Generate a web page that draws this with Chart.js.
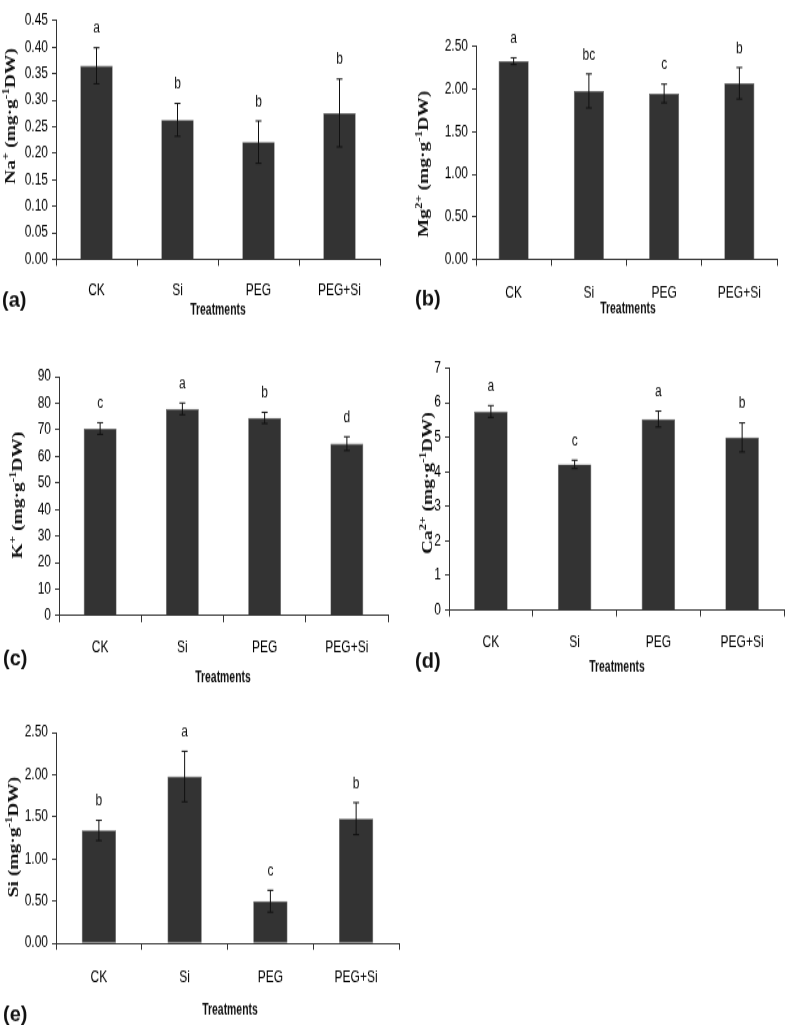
<!DOCTYPE html>
<html><head><meta charset="utf-8">
<script src="https://cdn.jsdelivr.net/npm/chart.js@4.4.1/dist/chart.umd.min.js"></script>
<style>
html,body{margin:0;padding:0;background:#fff;}
#fig{position:relative;width:787px;height:1025px;overflow:hidden;background:#fff;}
.panel{position:absolute;transform-origin:0 0;}
.panel canvas{display:block;}
</style></head><body><div id="fig"></div>
<script>
// ---------- data ----------
const categories = ['CK', 'Si', 'PEG', 'PEG+Si'];
const xAxisTitle = 'Treatments';

const naValues  = [0.365, 0.263, 0.221, 0.276];
const naErrors  = [0.034, 0.031, 0.040, 0.064];
const naLetters = ['a', 'b', 'b', 'b'];

const mgValues  = [2.33, 1.98, 1.95, 2.07];
const mgErrors  = [0.04, 0.20, 0.11, 0.185];
const mgLetters = ['a', 'bc', 'c', 'b'];

const kValues  = [70.5, 77.9, 74.5, 64.8];
const kErrors  = [2.2, 2.2, 2.1, 2.6];
const kLetters = ['c', 'a', 'b', 'd'];

const caValues  = [5.75, 4.22, 5.53, 5.00];
const caErrors  = [0.17, 0.12, 0.23, 0.42];
const caLetters = ['a', 'c', 'a', 'b'];

const siValues  = [1.34, 1.98, 0.50, 1.48];
const siErrors  = [0.12, 0.30, 0.13, 0.19];
const siLetters = ['b', 'a', 'c', 'b'];

// y titles as [text, isSuperscript]
const naTitle = [['Na',0],['+',1],[' (mg·g',0],['-1',1],['DW)',0]];
const mgTitle = [['Mg',0],['2+',1],[' (mg·g',0],['-1',1],['DW)',0]];
const kTitle  = [['K',0],['+',1],[' (mg·g',0],['-1',1],['DW)',0]];
const caTitle = [['Ca',0],['2+',1],[' (mg·g',0],['-1',1],['DW)',0]];
const siTitle = [['Si (mg·g',0],['-1',1],['DW)',0]];

const panelLabels = ['(a)', '(b)', '(c)', '(d)', '(e)'];

// ---------- layout / style ----------
const SY = 1.3; // vertical stretch of the original figure
const SANS = '"Liberation Sans",Arial,sans-serif';
const SERIF = '"Liberation Serif","Times New Roman",serif';

const panels = [
  {values: naValues, errors: naErrors, letters: naLetters, title: naTitle, label: panelLabels[0],
   box:{x:0,y:0,w:390,h:322}, area:{l:56,t:20.7,r:380,b:259.3}, max:0.45, step:0.05, dec:2,
   titlePos:[10,116], xTitlePos:[218,310], labelPos:[2,301], tickPad:12},
  {values: mgValues, errors: mgErrors, letters: mgLetters, title: mgTitle, label: panelLabels[1],
   box:{x:390,y:0,w:397,h:322}, area:{l:476,t:46.7,r:777,b:259.3}, max:2.5, step:0.5, dec:2,
   titlePos:[423,164], xTitlePos:[628,308], labelPos:[415,300], tickPad:14},
  {values: kValues, errors: kErrors, letters: kLetters, title: kTitle, label: panelLabels[2],
   box:{x:0,y:322,w:400,h:378}, area:{l:59,t:376.7,r:388,b:615.7}, max:90, step:10, dec:0,
   titlePos:[17,495], xTitlePos:[223,677], labelPos:[3,659], tickPad:12.6},
  {values: caValues, errors: caErrors, letters: caLetters, title: caTitle, label: panelLabels[3],
   box:{x:390,y:322,w:397,h:378}, area:{l:449,t:368.3,r:784,b:610}, max:7, step:1, dec:0,
   titlePos:[427,483], xTitlePos:[617,667], labelPos:[415,662], tickPad:13.4},
  {values: siValues, errors: siErrors, letters: siLetters, title: siTitle, label: panelLabels[4],
   box:{x:0,y:700,w:420,h:325}, area:{l:56,t:732.7,r:399,b:943.3}, max:2.5, step:0.5, dec:2,
   titlePos:[13,837], xTitlePos:[230,1010], labelPos:[3,1015], tickPad:14}
];

const X_AXIS_H = 30;

function drawYTitle(ctx, parts, cx, cy) {
  ctx.save();
  ctx.translate(cx, cy);
  ctx.rotate(-Math.PI / 2);
  ctx.fillStyle = '#111';
  ctx.textAlign = 'left';
  ctx.textBaseline = 'alphabetic';
  const fontOf = p => p[1] ? 'bold 10px ' + SERIF : 'bold 15px ' + SERIF;
  let total = 0;
  parts.forEach(p => { ctx.font = fontOf(p); total += ctx.measureText(p[0]).width; });
  let x = -total / 2;
  parts.forEach(p => {
    ctx.font = fontOf(p);
    ctx.fillText(p[0], x, p[1] ? -1.5 : 5);
    x += ctx.measureText(p[0]).width;
  });
  ctx.restore();
}

function drawText(ctx, text, x, y, font, align, sx, sy) {
  ctx.save();
  ctx.translate(x, y);
  ctx.scale(sx, sy);
  ctx.font = font;
  ctx.textAlign = align;
  ctx.textBaseline = 'middle';
  ctx.fillStyle = '#111';
  ctx.fillText(text, 0, 0);
  ctx.restore();
}

const fig = document.getElementById('fig');

panels.forEach(p => {
  const ox = p.box.x, oy = p.box.y;
  const cw = p.box.w, ch = Math.round(p.box.h / SY);
  const wrap = document.createElement('div');
  wrap.className = 'panel';
  wrap.style.left = ox + 'px'; wrap.style.top = oy + 'px';
  wrap.style.width = cw + 'px'; wrap.style.height = ch + 'px';
  wrap.style.transform = 'scaleY(' + SY + ')';
  const cv = document.createElement('canvas');
  cv.width = cw; cv.height = ch;
  cv.style.width = cw + 'px'; cv.style.height = ch + 'px';
  wrap.appendChild(cv);
  fig.appendChild(wrap);

  const toX = px => px - ox;
  const toY = py => (py - oy) / SY;
  const yW = p.area.l - ox;

  const annot = {
    id: 'annot',
    afterDatasetsDraw(chart) {
      const ctx = chart.ctx;
      const xs = chart.scales.x, ys = chart.scales.y;
      ctx.save();
      ctx.strokeStyle = '#111';
      ctx.lineWidth = 1;
      p.values.forEach((v, i) => {
        const x = xs.getPixelForValue(i);
        const yt = ys.getPixelForValue(v + p.errors[i]);
        const yb = ys.getPixelForValue(v - p.errors[i]);
        ctx.beginPath();
        ctx.moveTo(x, yt); ctx.lineTo(x, yb);
        ctx.moveTo(x - 3, yt); ctx.lineTo(x + 3, yt);
        ctx.moveTo(x - 3, yb); ctx.lineTo(x + 3, yb);
        ctx.stroke();
        drawText(ctx, p.letters[i], x, yt - 19 / SY, '12px ' + SANS, 'center', 1, 1);
      });
      ctx.restore();
    },
    afterDraw(chart) {
      const ctx = chart.ctx;
      drawYTitle(ctx, p.title, toX(p.titlePos[0]), toY(p.titlePos[1]));
      drawText(ctx, xAxisTitle, toX(p.xTitlePos[0]), toY(p.xTitlePos[1]), 'bold 13px ' + SANS, 'center', 0.8, 1);
      drawText(ctx, p.label, toX(p.labelPos[0]), toY(p.labelPos[1]), 'bold 20px ' + SANS, 'left', 1, 1.1 / SY);
    }
  };

  new Chart(cv, {
    type: 'bar',
    data: {
      labels: categories,
      datasets: [{
        data: p.values,
        backgroundColor: '#333333',
        borderColor: '#555555',
        borderWidth: 0.6,
        barPercentage: 0.4,
        categoryPercentage: 1.0
      }]
    },
    options: {
      responsive: false,
      animation: false,
      devicePixelRatio: 1,
      layout: {
        padding: {
          left: 0,
          top: toY(p.area.t),
          right: ox + cw - p.area.r,
          bottom: ch - toY(p.area.b) - X_AXIS_H
        }
      },
      plugins: { legend: { display: false }, tooltip: { enabled: false } },
      scales: {
        x: {
          offset: true,
          grid: { offset: true, drawOnChartArea: false, drawTicks: true, tickLength: 5, color: '#333', lineWidth: 1 },
          border: { display: true, color: '#333', width: 1 },
          ticks: { color: '#000', font: { family: SANS, size: 12 }, padding: p.tickPad, maxRotation: 0 },
          afterFit(s) { s.height = X_AXIS_H; }
        },
        y: {
          min: 0, max: p.max,
          grid: { drawOnChartArea: false, drawTicks: true, tickLength: 4, color: '#333', lineWidth: 1 },
          border: { display: true, color: '#333', width: 1 },
          ticks: {
            stepSize: p.step, color: '#000', padding: 4,
            font: { family: SANS, size: 12 },
            callback: v => Number(v).toFixed(p.dec)
          },
          afterFit(s) { s.width = yW; }
        }
      }
    },
    plugins: [annot]
  });
});
</script>
</body></html>
